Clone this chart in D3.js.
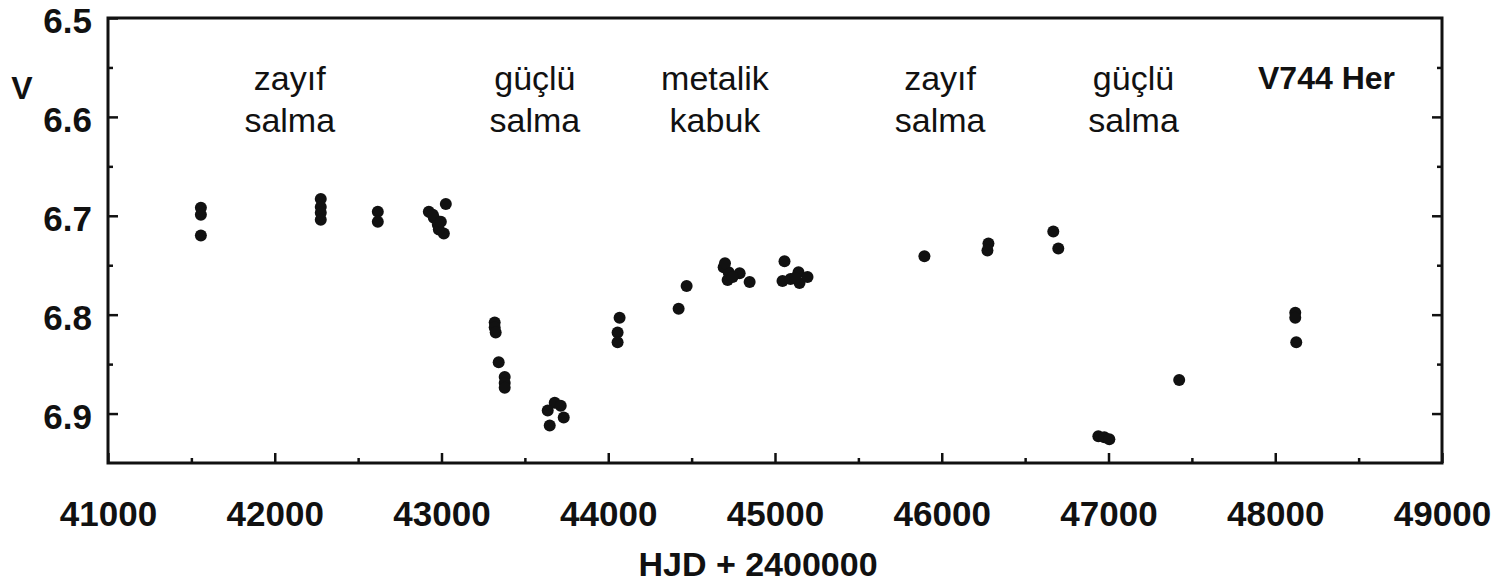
<!DOCTYPE html>
<html>
<head>
<meta charset="utf-8">
<script src="https://cdn.jsdelivr.net/npm/d3@7"></script>
<style>
body { margin: 0; background: #fff; }
text { font-family: "Liberation Sans", Arial, sans-serif; fill: #111; }
</style>
</head>
<body>
<div id="chart"></div>
<script>
// V744 Her light curve
var hjd = [41557, 41557, 41557,
  42276, 42276, 42276, 42276,
  42618, 42618,
  43026, 42924, 42954, 42978, 43014, 42984, 42948, 42996,
  43319, 43319, 43325, 43343, 43379, 43379, 43379,
  43679, 43715, 43637, 43733, 43649,
  44068, 44056, 44056,
  44422, 44470,
  44692, 44722, 44716, 44788, 44746, 44700, 44848,
  45057, 45045, 45093, 45141, 45147, 45195, 45120,
  45896, 46280, 46274, 46669, 46699,
  46939, 46975, 47005, 47424,
  48120, 48120, 48126];
var vmag = [6.692, 6.699, 6.720,
  6.683, 6.691, 6.697, 6.704,
  6.696, 6.706,
  6.688, 6.696, 6.702, 6.709, 6.718, 6.714, 6.699, 6.706,
  6.808, 6.813, 6.818, 6.848, 6.863, 6.869, 6.874,
  6.889, 6.892, 6.897, 6.904, 6.912,
  6.803, 6.818, 6.828,
  6.794, 6.771,
  6.752, 6.757, 6.765, 6.758, 6.762, 6.748, 6.767,
  6.746, 6.766, 6.764, 6.757, 6.768, 6.762, 6.763,
  6.741, 6.728, 6.735, 6.716, 6.733,
  6.923, 6.924, 6.926, 6.866,
  6.798, 6.803, 6.828];

var xTicks = [41000, 42000, 43000, 44000, 45000, 46000, 47000, 48000, 49000];
var yTicks = [6.5, 6.6, 6.7, 6.8, 6.9];

// phase annotations
var phaseText = [["zayıf", "salma"], ["güçlü", "salma"], ["metalik", "kabuk"], ["zayıf", "salma"], ["güçlü", "salma"]];
var phaseHjd = [42090, 43560, 44640, 45990, 47150];

var width = 1501, height = 584;
// note: "top" is reserved on window, so use plot* names
var plotLeft = 108, plotTop = 18, plotRight = 1442, plotBottom = 463;

var svg = d3.select("#chart").append("svg")
  .attr("width", width)
  .attr("height", height);

var x = d3.scaleLinear().domain([41000, 49000]).range([plotLeft, plotRight]);
var y = d3.scaleLinear().domain([6.5, 6.95]).range([plotTop, plotBottom]);

// minor ticks first
var minorX = d3.range(41500, 49000, 1000);
var minorY = [6.55, 6.65, 6.75, 6.85];

svg.append("g")
  .attr("transform", "translate(0," + plotBottom + ")")
  .call(d3.axisBottom(x).tickValues(minorX).tickSize(-5).tickFormat(""))
  .call(function(g) { g.select(".domain").remove(); });
svg.append("g")
  .attr("transform", "translate(" + plotLeft + ",0)")
  .call(d3.axisLeft(y).tickValues(minorY).tickSize(-5).tickFormat(""))
  .call(function(g) { g.select(".domain").remove(); });
svg.append("g")
  .attr("transform", "translate(" + plotRight + ",0)")
  .call(d3.axisRight(y).tickValues(minorY).tickSize(-5).tickFormat(""))
  .call(function(g) { g.select(".domain").remove(); });

// major axes
var xAxis = svg.append("g")
  .attr("transform", "translate(0," + plotBottom + ")")
  .call(d3.axisBottom(x).tickValues(xTicks).tickSize(-10).tickPadding(38).tickFormat(d3.format("d")));
var yAxis = svg.append("g")
  .attr("transform", "translate(" + plotLeft + ",0)")
  .call(d3.axisLeft(y).tickValues(yTicks).tickSize(-10).tickPadding(16).tickFormat(d3.format(".1f")));
svg.append("g")
  .attr("transform", "translate(" + plotRight + ",0)")
  .call(d3.axisRight(y).tickValues(yTicks.slice(1)).tickSize(-10).tickFormat(""))
  .call(function(g) { g.select(".domain").remove(); });

[xAxis, yAxis].forEach(function(g) {
  g.select(".domain").remove();
  g.selectAll("text")
    .style("font-size", "35px")
    .style("font-weight", "bold")
    .attr("fill", "#111");
});
// labels sit a little below their ticks in the original
yAxis.selectAll("text").attr("dy", "0.42em");
svg.selectAll(".tick line").attr("stroke", "#111").attr("stroke-width", 2.5);

// frame
svg.append("rect")
  .attr("x", plotLeft).attr("y", plotTop)
  .attr("width", plotRight - plotLeft).attr("height", plotBottom - plotTop)
  .attr("fill", "none")
  .attr("stroke", "#111")
  .attr("stroke-width", 3);

// data points
svg.append("g").selectAll("circle")
  .data(hjd)
  .enter().append("circle")
  .attr("cx", function(d) { return x(d); })
  .attr("cy", function(d, i) { return y(vmag[i]); })
  .attr("r", 6)
  .attr("fill", "#111");

// phase labels
phaseText.forEach(function(lines, i) {
  var t = svg.append("text")
    .attr("x", x(phaseHjd[i]))
    .attr("y", 90)
    .attr("text-anchor", "middle")
    .style("font-size", "34px");
  lines.forEach(function(s, j) {
    t.append("tspan").attr("x", x(phaseHjd[i])).attr("dy", j == 0 ? 0 : 42).text(s);
  });
});

svg.append("text")
  .attr("x", 1395).attr("y", 89)
  .attr("text-anchor", "end")
  .style("font-size", "32px")
  .style("font-weight", "bold")
  .text("V744 Her");

// axis titles
svg.append("text")
  .attr("x", 22).attr("y", 99)
  .attr("text-anchor", "middle")
  .style("font-size", "32px")
  .style("font-weight", "bold")
  .text("V");

svg.append("text")
  .attr("x", 758).attr("y", 576)
  .attr("text-anchor", "middle")
  .style("font-size", "34px")
  .style("font-weight", "bold")
  .text("HJD + 2400000");
</script>
</body>
</html>
